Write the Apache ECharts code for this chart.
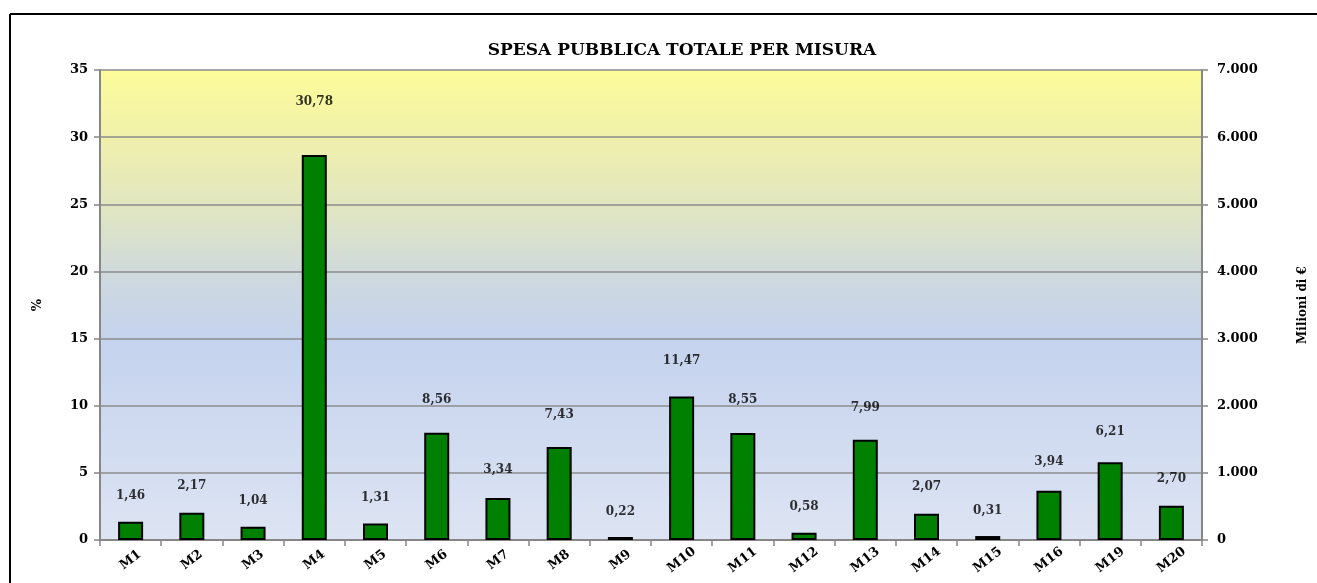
<!DOCTYPE html>
<html>
<head>
<meta charset="utf-8">
<script src="https://cdn.jsdelivr.net/npm/echarts@6/dist/echarts.min.js"></script>
<style>
  html, body { margin: 0; padding: 0; background: #fff; }
  #main { width: 1317px; height: 583px; }
</style>
</head>
<body>
<div id="main"></div>
<script>
// categories and values
var misure = ['M1', 'M2', 'M3', 'M4', 'M5', 'M6', 'M7', 'M8', 'M9', 'M10',
  'M11', 'M12', 'M13', 'M14', 'M15', 'M16', 'M19', 'M20'];
// spesa pubblica in milioni di euro (bars, right axis)
var spesaMilioni = [273, 406, 198, 5734, 247, 1598, 625, 1386, 45, 2136,
  1594, 108, 1494, 392, 59, 735, 1158, 511];
// quota percentuale (labels, left axis)
var quotaPerc = [1.46, 2.17, 1.04, 30.78, 1.31, 8.56, 3.34, 7.43, 0.22, 11.47,
  8.55, 0.58, 7.99, 2.07, 0.31, 3.94, 6.21, 2.70];
var percTicks = [0, 5, 10, 15, 20, 25, 30, 35];
var milioniTicks = [0, 1000, 2000, 3000, 4000, 5000, 6000, 7000];

var serif = '"DejaVu Serif", "Liberation Serif", serif';
var axisGray = '#868686';

function itNum(v, dec) {
  var s = v.toFixed(dec).replace('.', ',');
  return s.replace(/\B(?=(\d{3})+(?!\d))/g, '.');
}

var chart = echarts.init(document.getElementById('main'));

var option = {
  animation: false,
  textStyle: { fontFamily: serif },
  title: {
    text: 'SPESA PUBBLICA TOTALE PER MISURA',
    left: 677,
    top: 37,
    textAlign: 'center',
    textStyle: { fontFamily: serif, fontWeight: 'bold', fontSize: 17, color: '#000' }
  },
  graphic: [
    { type: 'line', shape: { x1: 10, y1: 14, x2: 1317, y2: 14 }, style: { stroke: '#000', lineWidth: 2 } },
    { type: 'line', shape: { x1: 10, y1: 14, x2: 10, y2: 583 }, style: { stroke: '#000', lineWidth: 2 } }
  ],
  grid: {
    left: 100, right: 115, top: 70, bottom: 43,
    show: true,
    borderWidth: 0,
    backgroundColor: new echarts.graphic.LinearGradient(0, 0, 0, 1, [
      { offset: 0, color: '#FCFC9A' },
      { offset: 0.15, color: '#F0F0AC' },
      { offset: 0.3, color: '#E0E5C2' },
      { offset: 0.45, color: '#CDD8E0' },
      { offset: 0.58, color: '#C5D3EE' },
      { offset: 1, color: '#DDE4F3' }
    ])
  },
  xAxis: {
    type: 'category',
    data: misure,
    axisLine: { lineStyle: { color: axisGray, width: 2 } },
    axisTick: { show: true, length: 6, lineStyle: { color: axisGray, width: 1.5 } },
    axisLabel: {
      rotate: 38, margin: 20, align: 'center', verticalAlign: 'middle', color: '#000',
      fontFamily: serif, fontWeight: 'bold', fontSize: 13
    }
  },
  yAxis: [
    {
      type: 'value',
      min: percTicks[0], max: percTicks[percTicks.length - 1], interval: 5,
      name: '%',
      nameLocation: 'middle', nameGap: 56, nameRotate: 90,
      nameTextStyle: { fontFamily: serif, fontWeight: 'bold', fontSize: 13, color: '#000' },
      axisLine: { show: true, lineStyle: { color: axisGray, width: 2 } },
      axisTick: { show: true, length: 6, lineStyle: { color: axisGray, width: 1.5 } },
      axisLabel: { color: '#000', fontWeight: 'bold', fontSize: 13, fontFamily: serif, margin: 12 },
      splitLine: { show: true, lineStyle: { color: '#8C8C8C', width: 1.5 } }
    },
    {
      type: 'value',
      min: milioniTicks[0], max: milioniTicks[milioniTicks.length - 1], interval: 1000,
      name: 'Milioni di €',
      nameLocation: 'middle', nameGap: 95, nameRotate: 90,
      nameTextStyle: { fontFamily: serif, fontWeight: 'bold', fontSize: 12, color: '#000' },
      axisLine: { show: true, lineStyle: { color: axisGray, width: 2 } },
      axisTick: { show: true, length: 6, lineStyle: { color: axisGray, width: 1.5 } },
      axisLabel: {
        color: '#000', fontWeight: 'bold', fontSize: 13, fontFamily: serif, margin: 15,
        formatter: function (v) { return itNum(v, 0); }
      },
      splitLine: { show: false }
    }
  ],
  series: [
    {
      name: 'Spesa pubblica',
      type: 'bar',
      yAxisIndex: 1,
      data: spesaMilioni,
      barWidth: 25,
      itemStyle: { color: '#008000', borderColor: '#000', borderWidth: 2 }
    },
    {
      name: 'Quota %',
      type: 'scatter',
      yAxisIndex: 0,
      data: quotaPerc,
      symbolSize: 2,
      itemStyle: { color: 'rgba(0,0,0,0)' },
      label: {
        show: true,
        position: 'top',
        distance: 18,
        color: '#000',
        fontFamily: serif,
        fontWeight: 'bold',
        fontSize: 12,
        formatter: function (p) { return itNum(p.value, 2); }
      }
    }
  ]
};

chart.setOption(option);
</script>
</body>
</html>
